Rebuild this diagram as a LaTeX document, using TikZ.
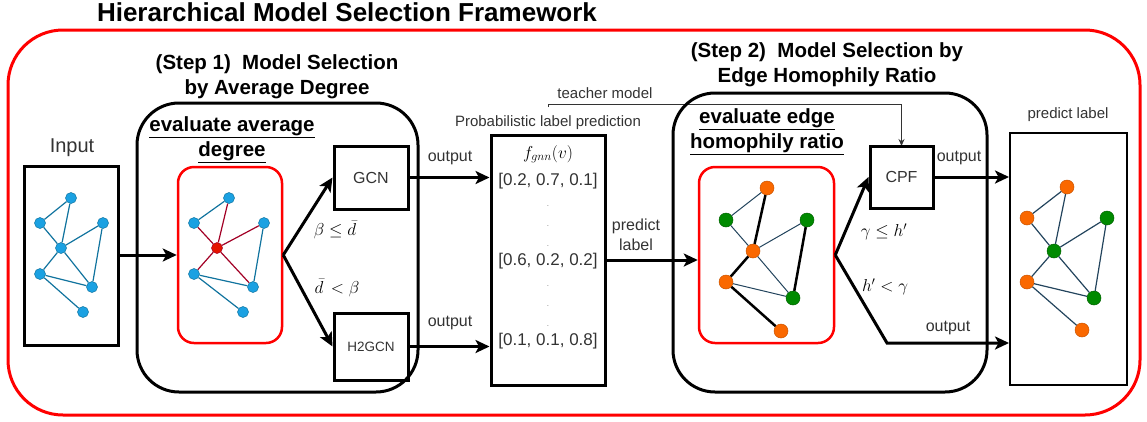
\documentclass[tikz,border=0pt]{standalone}
\usepackage{fontspec}
\setmainfont{Liberation Sans}
\usetikzlibrary{arrows.meta}
\definecolor{framered}{HTML}{FF0000}
\definecolor{nodeblue}{HTML}{1BA1E2}
\definecolor{edgeblue}{HTML}{10739E}
\definecolor{edgered}{HTML}{A20025}
\definecolor{nodered}{HTML}{E51400}
\definecolor{nodeorange}{HTML}{FA6800}
\definecolor{nodegreen}{HTML}{008A00}
\definecolor{edgedark}{HTML}{23445D}
\definecolor{textgray}{HTML}{333333}

\begin{document}
\begin{tikzpicture}[x=1pt,y=-1pt,>={Stealth[length=14pt,width=13pt,inset=3.5pt]},
  box/.style={draw,line width=3pt,inner sep=0pt},
  redbox/.style={draw=framered,line width=2.5pt,rounded corners=16pt,inner sep=0pt},
  stepbox/.style={draw,line width=3pt,rounded corners=42pt,inner sep=0pt},
  flow/.style={line width=3pt},
  txt/.style={font=\fontsize{16}{19}\selectfont,text=textgray,inner sep=0pt},
  small/.style={font=\fontsize{15}{18}\selectfont,text=textgray,inner sep=0pt},
  head/.style={font=\bfseries\fontsize{20.5}{25}\selectfont,align=center,inner sep=0pt},
  mathlbl/.style={font=\fontsize{17}{20}\selectfont,inner sep=0pt},
  bnode/.style={circle,fill=nodeblue,draw=edgeblue,line width=0.5pt,minimum size=11pt,inner sep=0pt},
  rnode/.style={circle,fill=nodered,draw=edgered,line width=0.5pt,minimum size=11pt,inner sep=0pt},
  onode/.style={circle,fill=nodeorange,draw=nodeorange!80!black,line width=0.5pt,minimum size=14pt,inner sep=0pt},
  gnode/.style={circle,fill=nodegreen,draw=nodegreen!70!black,line width=0.5pt,minimum size=14pt,inner sep=0pt},
  bedge/.style={draw=edgeblue,line width=1.2pt},
  redge/.style={draw=edgered,line width=1.2pt},
  homo/.style={draw=black,line width=2.5pt},
  hetero/.style={draw=edgedark,line width=1pt},
  plain/.style={draw=edgedark,line width=1.2pt}]
\useasboundingbox (0,0) rectangle (1147,421);

% title and outer frame
\node[font=\bfseries\fontsize{26}{31}\selectfont,anchor=base] (title) at (347,21) {Hierarchical Model Selection Framework};
\node[draw=framered,line width=3pt,rounded corners=55pt,minimum width=1132pt,minimum height=385pt] (frame) at (574,222.5) {};

% input graph
\node[font=\fontsize{20}{24}\selectfont,text=textgray,anchor=base] (inlbl) at (72,152) {Input};
\node[box,minimum width=94pt,minimum height=179pt] (input) at (71,255.5) {};
\foreach \n/\x/\y in {1/71/198,2/40/223,3/103/223,4/61/248,5/40/274,6/92/287,7/83/312}
  \node[bnode] (i\n) at (\x,\y) {};
\foreach \a/\b in {2/1,1/4,2/4,4/3,3/6,4/5,4/6,5/6,5/7}
  \draw[bedge] (i\a) -- (i\b);

% step 1
\node[head] (step1) at (277,77) {(Step 1)\ \ Model Selection\\by Average Degree};
\node[stepbox,minimum width=281pt,minimum height=289pt] (s1box) at (277.5,247.5) {};
\node[head] (avg) at (232,140) {\underline{evaluate average}\\\underline{degree}};
\node[redbox,minimum width=104pt,minimum height=176pt] (red1) at (230,255) {};
\foreach \n/\x/\y/\s in {1/229/198/bnode,2/194/223/bnode,3/264/223/bnode,4/217/248/rnode,5/194/274/bnode,6/253/287/bnode,7/243/312/bnode}
  \node[\s] (a\n) at (\x,\y) {};
\foreach \a/\b/\s in {2/1/bedge,1/4/redge,2/4/redge,4/3/redge,3/6/bedge,4/5/redge,4/6/redge,5/6/bedge,5/7/bedge}
  \draw[\s] (a\a) -- (a\b);
\draw[flow,->] (input.east |- red1.west) -- (red1.west);

\node[box,minimum width=74pt,minimum height=63pt,font=\fontsize{16}{19}\selectfont,text=textgray] (gcn) at (371,177.5) {GCN};
\node[box,minimum width=74pt,minimum height=67pt,font=\fontsize{13.5}{16}\selectfont,text=textgray] (h2gcn) at (371,346.5) {H2GCN};
\draw[flow,->] (red1.east) -- (gcn.west);
\draw[flow,->] (red1.east) -- (h2gcn.west);
\node[mathlbl] (cond1) at (335,230) {$\beta\leq\bar{d}$};
\node[mathlbl] (cond2) at (337,288) {$\bar{d}\,<\beta$};

% probabilistic label prediction
\node[small] (problbl) at (548,123) {Probabilistic label prediction};
\node[box,minimum width=114pt,minimum height=250pt] (prob) at (548,260) {};
\node[mathlbl] (fgnn) at (548,154) {$f_{gnn}(v)$};
\node[txt,font=\fontsize{17}{20}\selectfont] (v1) at (548,181) {[0.2, 0.7, 0.1]};
\node[txt,font=\fontsize{17}{20}\selectfont] (v2) at (548,261) {[0.6, 0.2, 0.2]};
\node[txt,font=\fontsize{17}{20}\selectfont] (v3) at (548,341) {[0.1, 0.1, 0.8]};
\foreach \y in {205,225,245,285,305,325}
  \node[txt,text=gray,font=\fontsize{8}{10}\selectfont,anchor=base] (d\y) at (548,{\y+1}) {.};
\draw[flow,->] (gcn.east) -- (gcn.east -| prob.west);
\draw[flow,->] (h2gcn.east) -- (h2gcn.east -| prob.west);
\node[txt] (out1) at (450,158) {output};
\node[txt] (out2) at (450,323) {output};

% teacher model
\coordinate (tstart) at (548,107);
\node[small] (teacher) at (605,93) {teacher model};
\draw[draw=textgray,line width=0.8pt,-{Stealth[length=7pt,width=6pt]}] (tstart) -- ++(0,-3) -| (901.5,146);

% step 2
\node[head] (step2) at (827,65) {(Step 2)\ \ Model Selection by\\Edge Homophily Ratio};
\node[stepbox,minimum width=314pt,minimum height=299pt] (s2box) at (830,242.5) {};
\node[head] (homlbl) at (767,132) {\underline{evaluate edge}\\\underline{homophily ratio}};
\node[redbox,minimum width=135pt,minimum height=176pt] (red2) at (766.5,255) {};
\foreach \n/\x/\y/\s in {1/767/188/onode,2/726/220/gnode,3/807/220/gnode,4/753/251/onode,5/726/282/onode,6/793/298/gnode,7/781/331/onode}
  \node[\s] (h\n) at (\x,\y) {};
\foreach \a/\b/\s in {2/1/hetero,1/4/homo,2/4/hetero,4/3/hetero,3/6/homo,4/5/homo,4/6/hetero,5/6/hetero,5/7/homo}
  \draw[\s] (h\a) -- (h\b);
\node[txt,align=center,font=\fontsize{16}{20}\selectfont] (predlbl) at (636,235) {predict\\label};
\draw[flow,->] (prob.east) -- (prob.east -| red2.west);

\node[box,minimum width=63pt,minimum height=62pt,font=\fontsize{16}{19}\selectfont,text=textgray] (cpf) at (901.5,177) {CPF};
\coordinate (lowbend) at (887,343);
\node[mathlbl] (cond3) at (884,232) {$\gamma\leq h'$};
\node[mathlbl] (cond4) at (885,287) {$h'<\gamma$};

% predicted labels
\node[small] (outlbl) at (1068,115) {predict label};
\node[draw,line width=2pt,minimum width=117pt,minimum height=252pt] (pred) at (1068.5,259) {};
\foreach \n/\x/\y/\s in {1/1067/187/onode,2/1027/218/onode,3/1107/218/gnode,4/1054/251/gnode,5/1027/282/onode,6/1094/298/gnode,7/1082/330/onode}
  \node[\s] (p\n) at (\x,\y) {};
\foreach \a/\b in {2/1,1/4,2/4,4/3,3/6,4/5,4/6,5/6,5/7}
  \draw[plain] (p\a) -- (p\b);

\draw[flow,->] (red2.east) -- (cpf.west);
\draw[flow,->] (red2.east) -- (lowbend) -- (lowbend -| pred.west);
\draw[flow,->] (cpf.east) -- (cpf.east -| pred.west);
\node[txt] (out3) at (959,158) {output};
\node[txt] (out4) at (948,328) {output};
\end{tikzpicture}
\end{document}
